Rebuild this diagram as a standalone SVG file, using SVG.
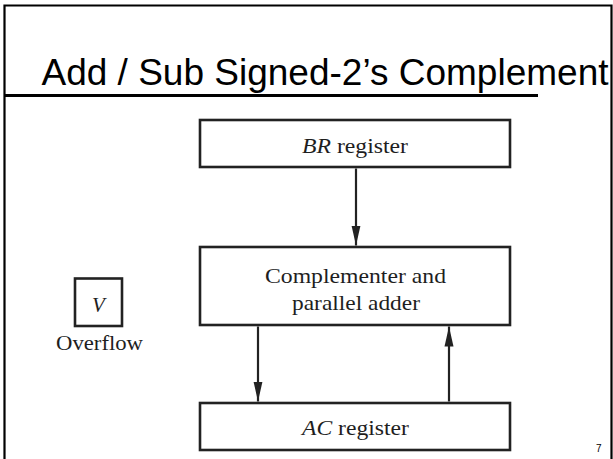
<svg xmlns="http://www.w3.org/2000/svg" width="613" height="459" viewBox="0 0 613 459">
  <style>
    .frame { fill: none; stroke: #000; stroke-width: 2.2; }
    .rule { stroke: #000; stroke-width: 3; }
    .title { font-family: "Liberation Sans", Arial, sans-serif; font-size: 37px; fill: #000; }
    .page { font-family: "Liberation Sans", Arial, sans-serif; font-size: 10px; fill: #000; }
    .box { fill: #fff; stroke: #222; stroke-width: 2.6; }
    .lbl { font-family: "Liberation Serif", "Times New Roman", serif; font-size: 21px; fill: #1e1e1e; }
    .it { font-style: italic; }
    .wire { stroke: #222; stroke-width: 2.2; fill: none; marker-end: url(#head); }
  </style>
  <defs>
    <marker id="head" viewBox="0 0 20 10" refX="20" refY="5" markerWidth="20" markerHeight="10" markerUnits="userSpaceOnUse" orient="auto">
      <path d="M0,0.5 L20,5 L0,9.5 z" fill="#222"/>
    </marker>
  </defs>

  <rect width="613" height="459" fill="#fff"/>

  <!-- slide title -->
  <text class="title" x="41.5" y="85" textLength="567" lengthAdjust="spacing">Add / Sub Signed-2’s Complement</text>
  <line class="rule" x1="4" y1="95.5" x2="538" y2="95.5"/>

  <!-- slide frame -->
  <path class="frame" d="M4.5,470 L4.5,5.5 L611.5,5.5 L611.5,470"/>

  <!-- overflow flag -->
  <g id="overflow">
    <rect class="box" x="75" y="278.5" width="47" height="47.5"/>
    <text class="lbl it" x="98.5" y="312" text-anchor="middle">V</text>
    <text class="lbl" x="56" y="350" textLength="87" lengthAdjust="spacingAndGlyphs">Overflow</text>
  </g>

  <!-- BR register -->
  <g id="br">
    <rect class="box" x="200" y="120" width="310" height="47"/>
    <text class="lbl" x="302" y="152.5" textLength="106" lengthAdjust="spacingAndGlyphs"><tspan class="it">BR</tspan> register</text>
  </g>

  <!-- complementer and parallel adder -->
  <g id="adder">
    <rect class="box" x="200" y="247" width="310" height="78"/>
    <text class="lbl" x="265" y="283" textLength="181" lengthAdjust="spacingAndGlyphs">Complementer and</text>
    <text class="lbl" x="292" y="310" textLength="128" lengthAdjust="spacingAndGlyphs">parallel adder</text>
  </g>

  <!-- AC register -->
  <g id="ac">
    <rect class="box" x="200" y="403" width="310" height="47"/>
    <text class="lbl" x="302" y="435" textLength="107" lengthAdjust="spacingAndGlyphs"><tspan class="it">AC</tspan> register</text>
  </g>

  <!-- data paths -->
  <g id="connectors">
    <line class="wire" x1="356" y1="168.5" x2="356" y2="245.5"/>
    <line class="wire" x1="258" y1="326.5" x2="258" y2="401.5"/>
    <line class="wire" x1="449" y1="401.5" x2="449" y2="326.5"/>
  </g>

  <!-- page number -->
  <text class="page" x="596" y="452">7</text>
</svg>
